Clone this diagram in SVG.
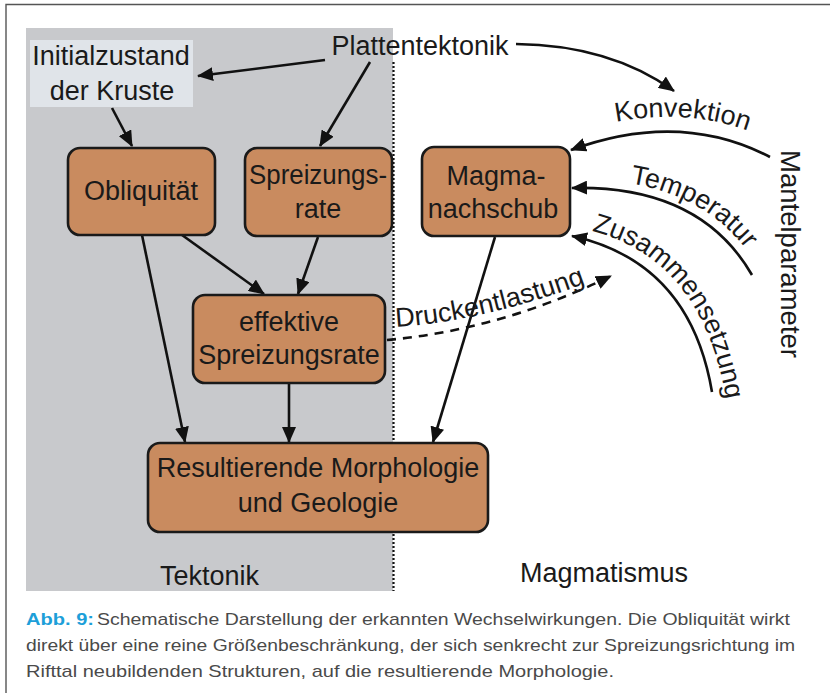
<svg xmlns="http://www.w3.org/2000/svg" width="830" height="693" viewBox="0 0 830 693">
<defs>
<marker id="ah" markerUnits="userSpaceOnUse" markerWidth="16" markerHeight="14" refX="15" refY="7" orient="auto">
<path d="M0,0 L16,7 L0,14 z" fill="#111"/>
</marker>
<path id="tp-konv" d="M 566,136 Q 682,94 778,144"/>
<path id="tp-temp" d="M 572,180 Q 706,176 760,270"/>
<path id="tp-zus" d="M 574,227 Q 706,250 728,412"/>
<path id="tp-druck" d="M 396,327 Q 480,322 584,284"/>
</defs>
<style>
.lbl{font-family:"Liberation Sans",Arial,sans-serif;font-size:27px;fill:#1a1a1a;text-anchor:middle}
.lbs{font-family:"Liberation Sans",Arial,sans-serif;font-size:27px;fill:#1a1a1a}
.box{fill:#c98b5f;stroke:#1a1a1a;stroke-width:2.6}
.ln{fill:none;stroke:#111;stroke-width:2.6;marker-end:url(#ah)}
.cap{font-family:"Liberation Sans",Arial,sans-serif;font-size:17px;fill:#4a4a4a}
</style>
<rect width="830" height="693" fill="#fff"/>
<path d="M6,693 V4.5 H830" fill="none" stroke="#555" stroke-width="1.4"/>
<rect x="26" y="28" width="367" height="563" fill="#c8c9cc"/>
<rect x="30" y="40" width="163" height="67" fill="#e0e4e9"/>
<line x1="393.5" y1="62" x2="393.5" y2="591" stroke="#111" stroke-width="2.2" stroke-dasharray="2 2"/>

<g id="connectors">
<path class="ln" d="M 325,60 L 198,76"/>
<path class="ln" d="M 370,62 L 320,146"/>
<path class="ln" d="M 112,108 L 132,146"/>
<path class="ln" d="M 182,235 L 264,294"/>
<path class="ln" d="M 318,237 L 298,294"/>
<path class="ln" d="M 142,235 L 185,442"/>
<path class="ln" d="M 289,384 L 289,442"/>
<path class="ln" d="M 495,237 L 433,442"/>
<path class="ln" d="M 387,340 Q 500,330 611,276" stroke-dasharray="9 7"/>
<path class="ln" d="M 516,44 Q 610,45 674,91"/>
<path class="ln" d="M 770,157 Q 680,110 571,150"/>
<path class="ln" d="M 752,275 Q 700,185 572,188"/>
<path class="ln" d="M 712,392 Q 690,262 572,236"/>
</g>

<g id="plattentektonik"><text class="lbl" x="420" y="55">Plattentektonik</text></g>
<g id="initialzustand"><text class="lbl" x="111" y="65">Initialzustand</text><text class="lbl" x="112" y="100">der Kruste</text></g>

<g id="obliquitaet"><rect class="box" x="68" y="148" width="147" height="87" rx="12"/><text class="lbl" x="141" y="200">Obliquität</text></g>
<g id="spreizungsrate"><rect class="box" x="245" y="148" width="147" height="88" rx="12"/><text class="lbl" x="318" y="184" textLength="138" lengthAdjust="spacingAndGlyphs">Spreizungs-</text><text class="lbl" x="318" y="218">rate</text></g>
<g id="magmanachschub"><rect class="box" x="422" y="147" width="148" height="89" rx="12"/><text class="lbl" x="496" y="185">Magma-</text><text class="lbl" x="493" y="218">nachschub</text></g>
<g id="effektive"><rect class="box" x="193" y="295" width="192" height="88" rx="12"/><text class="lbl" x="289" y="331">effektive</text><text class="lbl" x="289" y="364">Spreizungsrate</text></g>
<g id="resultierende"><rect class="box" x="148" y="443" width="340" height="89" rx="12"/><text class="lbl" x="318" y="477">Resultierende Morphologie</text><text class="lbl" x="318" y="512">und Geologie</text></g>

<g id="konvektion"><text class="lbs"><textPath href="#tp-konv" startOffset="52">Konvektion</textPath></text></g>
<g id="temperatur"><text class="lbs"><textPath href="#tp-temp" startOffset="58">Temperatur</textPath></text></g>
<g id="zusammensetzung"><text class="lbs"><textPath href="#tp-zus" startOffset="18">Zusammensetzung</textPath></text></g>
<g id="druckentlastung"><text class="lbs"><textPath href="#tp-druck" startOffset="0">Druckentlastung</textPath></text></g>
<g id="mantelparameter"><text class="lbs" transform="translate(781,150) rotate(90)" textLength="208" lengthAdjust="spacingAndGlyphs">Mantelparameter</text></g>

<g id="tektonik"><text class="lbs" x="160" y="585">Tektonik</text></g>
<g id="magmatismus"><text class="lbs" x="520" y="582">Magmatismus</text></g>

<g id="caption">
<text class="cap" x="26" y="625" font-weight="bold" style="fill:#1d9fd9" textLength="68" lengthAdjust="spacingAndGlyphs">Abb. 9:</text>
<text class="cap" x="97" y="625" textLength="693" lengthAdjust="spacingAndGlyphs">Schematische Darstellung der erkannten Wechselwirkungen. Die Obliquität wirkt</text>
<text class="cap" x="26" y="651" textLength="769" lengthAdjust="spacingAndGlyphs">direkt über eine reine Größenbeschränkung, der sich senkrecht zur Spreizungsrichtung im</text>
<text class="cap" x="26" y="677" textLength="588" lengthAdjust="spacingAndGlyphs">Rifttal neubildenden Strukturen, auf die resultierende Morphologie.</text>
</g>
</svg>
